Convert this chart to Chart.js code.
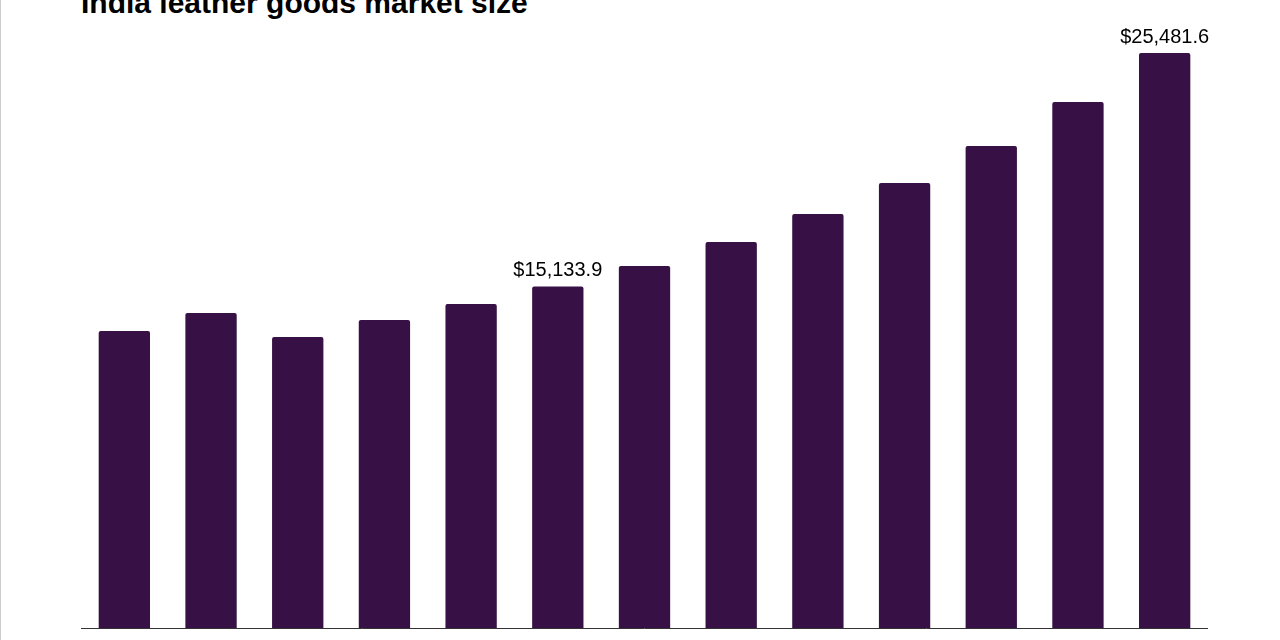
<!DOCTYPE html>
<html>
<head>
<meta charset="utf-8">
<script src="https://cdn.jsdelivr.net/npm/chart.js@4"></script>
<style>
  body { margin: 0; background: #fff; overflow: hidden; }
  #wrap { position: relative; width: 1280px; height: 640px; border-left: 1px solid #ccc; box-sizing: border-box; }
  #title { position: absolute; left: 80px; top: -14px; font: bold 30px "Liberation Sans", Arial, sans-serif; color: #000; }
  canvas { position: absolute; left: 0; top: 0; }
</style>
</head>
<body>
<div id="wrap">
  <div id="title">India leather goods market size</div>
  <canvas id="chart" width="1280" height="640"></canvas>
</div>
<script>
const years = ['2018', '2019', '2020', '2021', '2022', '2023', '2024', '2025', '2026', '2027', '2028', '2029', '2030'];
const marketSize = [13160, 13960, 12900, 13650, 14360, 15133.9, 16040, 17110, 18350, 19720, 21360, 23310, 25481.6];
const labelledBars = [5, 12];

const valueLabels = {
    id: 'valueLabels',
    afterDatasetsDraw(chart) {
        const ctx = chart.ctx;
        const meta = chart.getDatasetMeta(0);
        ctx.save();
        ctx.font = '20px "Liberation Sans", Arial, sans-serif';
        ctx.fillStyle = '#000';
        ctx.textAlign = 'center';
        ctx.textBaseline = 'bottom';
        labelledBars.forEach(i => {
            const bar = meta.data[i];
            const txt = '$' + marketSize[i].toLocaleString('en-US', { minimumFractionDigits: 1 });
            ctx.fillText(txt, bar.x, bar.y - 6);
        });
        // baseline
        const area = chart.chartArea;
        ctx.strokeStyle = '#333';
        ctx.lineWidth = 1;
        ctx.beginPath();
        ctx.moveTo(area.left, area.bottom + 0.5);
        ctx.lineTo(area.right, area.bottom + 0.5);
        ctx.stroke();
        ctx.restore();
    }
};

new Chart(document.getElementById('chart').getContext('2d'), {
    type: 'bar',
    data: {
        labels: years,
        datasets: [{
            data: marketSize,
            backgroundColor: '#371145',
            categoryPercentage: 0.8,
            barPercentage: 0.74,
            borderRadius: 2,
            borderSkipped: 'bottom'
        }]
    },
    options: {
        responsive: false,
        animation: false,
        layout: { padding: { top: 53, bottom: 12, left: 80, right: 73 } },
        plugins: { legend: { display: false }, tooltip: { enabled: false } },
        scales: {
            x: { display: false },
            y: { display: false, min: 0, max: 25481.6 }
        }
    },
    plugins: [valueLabels]
});
</script>
</body>
</html>
